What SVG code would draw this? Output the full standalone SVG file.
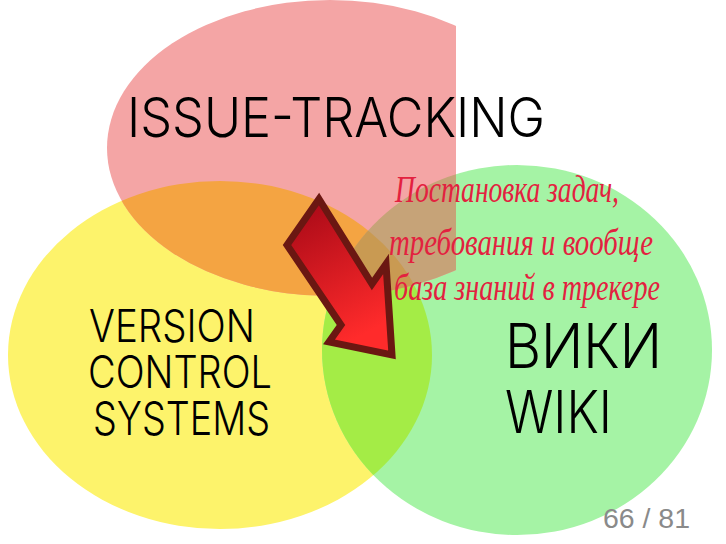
<svg xmlns="http://www.w3.org/2000/svg" width="726" height="544" viewBox="0 0 726 544">
<style>
.hand{font-family:Inter,"Noto Sans","DejaVu Sans",sans-serif;font-weight:300;fill:#000}
.note{font-family:"Liberation Serif","DejaVu Serif",serif;font-style:italic;fill:#e3213f}
.page{font-family:"Liberation Sans Narrow","Liberation Sans",sans-serif;fill:#8a8a8a}
</style>
<defs>
<clipPath id="clipRect"><rect x="0" y="0" width="456" height="544"/></clipPath>
<clipPath id="clipY"><ellipse cx="220" cy="355" rx="212" ry="174"/></clipPath>
<clipPath id="clipG"><ellipse cx="517" cy="350" rx="195" ry="185"/></clipPath>
<linearGradient id="arrowGrad" x1="0" y1="0" x2="0.35" y2="1">
<stop offset="0" stop-color="#a30716"/>
<stop offset="1" stop-color="#ff2b2b"/>
</linearGradient>
</defs>
<rect width="726" height="544" fill="#fff"/>
<g id="circles">
<ellipse id="vcs-circle" cx="220" cy="355" rx="212" ry="174" fill="#fdf36b"/>
<ellipse id="wiki-circle" cx="517" cy="350" rx="195" ry="185" fill="#a5f3a5"/>
<ellipse cx="517" cy="350" rx="195" ry="185" fill="#a4ec46" clip-path="url(#clipY)"/>
<g clip-path="url(#clipRect)">
<ellipse id="issue-circle" cx="330" cy="148" rx="223" ry="148" fill="#f4a5a5"/>
<ellipse cx="330" cy="148" rx="223" ry="148" fill="#f4a442" clip-path="url(#clipY)"/>
<ellipse cx="330" cy="148" rx="223" ry="148" fill="#c6a378" clip-path="url(#clipG)"/>
<g clip-path="url(#clipY)"><ellipse cx="330" cy="148" rx="223" ry="148" fill="#c99a52" clip-path="url(#clipG)"/></g>
</g>
</g>
<g id="issue-tracking">
<text class="hand" x="127" y="137" font-size="55" textLength="418" lengthAdjust="spacingAndGlyphs">ISSUE-TRACKING</text>
</g>
<g id="version-control">
<text class="hand" x="89" y="342" font-size="45" textLength="166" lengthAdjust="spacingAndGlyphs">VERSION</text>
<text class="hand" x="88" y="388" font-size="45" textLength="184" lengthAdjust="spacingAndGlyphs">CONTROL</text>
<text class="hand" x="93" y="435" font-size="47" textLength="177" lengthAdjust="spacingAndGlyphs">SYSTEMS</text>
</g>
<g id="wiki">
<text class="hand" x="505" y="368" font-size="62" textLength="157" lengthAdjust="spacingAndGlyphs">ВИКИ</text>
<text class="hand" x="505" y="433" font-size="59" textLength="107" lengthAdjust="spacingAndGlyphs">WIKI</text>
</g>
<g id="connectors">
<path id="arrow" d="M319,199 L287,245 L341,325 L329,342 L392,355 L386,264 L372,284 Z" fill="url(#arrowGrad)" stroke="#6b1712" stroke-width="7" stroke-linejoin="miter"/>
</g>
<g id="note">
<text class="note" x="395" y="202" font-size="38" textLength="224" lengthAdjust="spacingAndGlyphs">Постановка задач,</text>
<text class="note" x="389" y="255" font-size="38" textLength="264" lengthAdjust="spacingAndGlyphs">требования и вообще</text>
<text class="note" x="394" y="300" font-size="38" textLength="266" lengthAdjust="spacingAndGlyphs">база знаний в трекере</text>
</g>
<g id="page-number">
<text class="page" x="603" y="528" font-size="27" textLength="87" lengthAdjust="spacingAndGlyphs">66 / 81</text>
</g>
</svg>
